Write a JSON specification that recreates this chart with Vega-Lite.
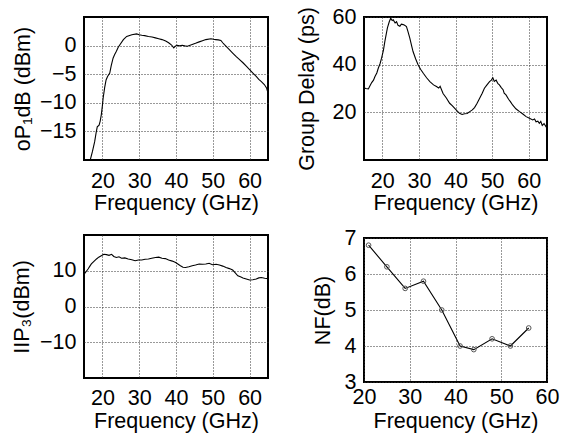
{
  "$schema": "https://vega.github.io/schema/vega-lite/v6.json",
  "padding": {"left": 10, "top": 5, "right": 0, "bottom": 0},
  "background": "white",
  "config": {
    "font": "Liberation Sans",
    "view": {"stroke": "black", "strokeWidth": 2},
    "axis": {
      "domain": false, "ticks": false, "tickSize": 0,
      "labelFontSize": 21.5, "titleFontSize": 21.5,
      "labelColor": "black", "titleColor": "black", "titleFontWeight": "normal",
      "labelFont": "Liberation Sans", "titleFont": "Liberation Sans",
      "gridColor": "#333", "gridDash": [1, 2], "gridOpacity": 1, "gridWidth": 1,
      "labelPadding": 8, "labelFlush": false
    },
    "axisX": {"labelPadding": 10, "titlePadding": 1}
  },
  "datasets": {
    "p1": [
      {"f":16.7,"v":-20},{"f":17.3,"v":-18.5},{"f":17.9,"v":-16.8},{"f":18.3,"v":-15.2},{"f":18.6,"v":-14.2},{"f":19.1,"v":-13.9},{"f":19.4,"v":-13.2},{"f":19.7,"v":-12.1},{"f":20.0,"v":-10.5},{"f":20.2,"v":-9.2},{"f":20.6,"v":-7.4},{"f":21.0,"v":-6.0},{"f":21.4,"v":-5.4},{"f":22.0,"v":-4.8},{"f":22.4,"v":-3.5},{"f":22.9,"v":-2.2},{"f":23.3,"v":-1.6},{"f":23.8,"v":-1.0},{"f":24.3,"v":-0.3},{"f":24.8,"v":0.2},{"f":25.7,"v":1.05},{"f":26.6,"v":1.6},{"f":28.0,"v":1.9},{"f":29.3,"v":2.05},{"f":30.0,"v":1.9},{"f":30.7,"v":1.8},{"f":31.5,"v":1.75},{"f":32.5,"v":1.6},{"f":33.5,"v":1.5},{"f":34.4,"v":1.35},{"f":35.3,"v":1.2},{"f":36.2,"v":1.05},{"f":37.2,"v":0.8},{"f":38.0,"v":0.5},{"f":38.8,"v":0.1},{"f":39.4,"v":-0.4},{"f":39.8,"v":-0.1},{"f":40.3,"v":0.05},{"f":41.0,"v":-0.05},{"f":41.7,"v":0.05},{"f":42.4,"v":-0.05},{"f":43.1,"v":-0.1},{"f":44.4,"v":0.2},{"f":45.3,"v":0.4},{"f":46.3,"v":0.65},{"f":47.2,"v":0.85},{"f":48.1,"v":1.05},{"f":49.5,"v":1.2},{"f":50.2,"v":1.1},{"f":50.8,"v":1.05},{"f":51.5,"v":1.0},{"f":52.2,"v":0.9},{"f":52.7,"v":0.5},{"f":53.1,"v":0.2},{"f":54.5,"v":-0.7},{"f":55.4,"v":-1.3},{"f":56.3,"v":-1.9},{"f":57.2,"v":-2.4},{"f":58.2,"v":-3.0},{"f":59.1,"v":-3.6},{"f":60.0,"v":-4.2},{"f":60.9,"v":-4.8},{"f":61.8,"v":-5.4},{"f":62.5,"v":-5.9},{"f":63.2,"v":-6.3},{"f":64.0,"v":-6.8},{"f":64.6,"v":-7.4},{"f":65.0,"v":-8.3},{"f":65.5,"v":-8.9}
    ],
    "p2": [
      {"f":14.8,"v":30.4},{"f":15.5,"v":30.0},{"f":16.2,"v":29.8},{"f":16.6,"v":31.0},{"f":17.1,"v":32.5},{"f":17.6,"v":33.5},{"f":18.0,"v":35.0},{"f":18.5,"v":36.5},{"f":18.9,"v":38.5},{"f":19.4,"v":40.5},{"f":19.8,"v":42.7},{"f":20.3,"v":46},{"f":20.7,"v":49.8},{"f":21.1,"v":53},{"f":21.4,"v":55.4},{"f":21.9,"v":58},{"f":22.3,"v":59.5},{"f":22.7,"v":58.5},{"f":23.0,"v":58.8},{"f":23.5,"v":57.5},{"f":23.9,"v":58},{"f":24.3,"v":56.5},{"f":24.8,"v":56.1},{"f":25.2,"v":57},{"f":25.7,"v":56.8},{"f":26.1,"v":56.5},{"f":26.6,"v":56},{"f":27.0,"v":54},{"f":27.5,"v":51.2},{"f":28.0,"v":48},{"f":28.4,"v":45.5},{"f":29.1,"v":42.5},{"f":29.8,"v":39.9},{"f":30.5,"v":38},{"f":31.2,"v":36.4},{"f":32.1,"v":34.5},{"f":33.0,"v":32.9},{"f":34.0,"v":31.5},{"f":34.8,"v":30.8},{"f":35.4,"v":30.2},{"f":35.8,"v":30.9},{"f":36.6,"v":27.9},{"f":37.5,"v":26},{"f":38.4,"v":23.8},{"f":39.1,"v":22.8},{"f":39.8,"v":21.7},{"f":40.5,"v":20.5},{"f":41.1,"v":19.6},{"f":41.8,"v":19.1},{"f":42.5,"v":19.4},{"f":43.2,"v":19.5},{"f":43.9,"v":20.3},{"f":44.6,"v":21},{"f":45.2,"v":22.0},{"f":45.9,"v":23.8},{"f":46.6,"v":25.9},{"f":47.3,"v":28},{"f":47.9,"v":30.1},{"f":48.6,"v":31.5},{"f":49.3,"v":32.9},{"f":49.8,"v":33.5},{"f":50.2,"v":34.5},{"f":50.6,"v":33},{"f":51.1,"v":33.5},{"f":51.6,"v":32},{"f":52.0,"v":31.5},{"f":52.5,"v":30.4},{"f":53.0,"v":29.5},{"f":53.3,"v":28},{"f":53.8,"v":27.3},{"f":54.5,"v":25.5},{"f":55.0,"v":24.5},{"f":55.6,"v":23.1},{"f":56.5,"v":21.5},{"f":57.5,"v":20.3},{"f":58.4,"v":19.3},{"f":59.3,"v":18.2},{"f":60.2,"v":17.5},{"f":61.1,"v":16.8},{"f":61.6,"v":17.2},{"f":62.0,"v":16},{"f":62.5,"v":16.3},{"f":62.9,"v":15.4},{"f":63.3,"v":16.2},{"f":63.7,"v":14.5},{"f":64.2,"v":15.3},{"f":64.7,"v":14.0},{"f":65.0,"v":14.5}
    ],
    "p3": [
      {"f":15.1,"v":9.1},{"f":15.6,"v":9.8},{"f":16.1,"v":10.5},{"f":16.6,"v":11.3},{"f":17.0,"v":11.9},{"f":17.7,"v":12.6},{"f":18.4,"v":13.3},{"f":19.0,"v":13.8},{"f":19.7,"v":14.2},{"f":20.4,"v":14.6},{"f":21.1,"v":14.5},{"f":21.8,"v":14.3},{"f":22.5,"v":14.6},{"f":23.1,"v":14.0},{"f":23.8,"v":13.7},{"f":24.5,"v":13.9},{"f":25.2,"v":13.5},{"f":26.1,"v":13.6},{"f":27.0,"v":13.3},{"f":28.0,"v":13.1},{"f":28.9,"v":12.8},{"f":29.8,"v":13.0},{"f":30.7,"v":13.0},{"f":31.6,"v":13.2},{"f":32.5,"v":13.3},{"f":33.4,"v":13.5},{"f":34.4,"v":13.7},{"f":35.3,"v":13.8},{"f":36.2,"v":13.5},{"f":37.1,"v":13.4},{"f":38.0,"v":13.0},{"f":39.0,"v":12.7},{"f":39.9,"v":12.3},{"f":40.5,"v":11.9},{"f":41.2,"v":11.4},{"f":41.9,"v":11.0},{"f":42.6,"v":10.9},{"f":43.5,"v":11.1},{"f":44.4,"v":11.4},{"f":45.3,"v":11.6},{"f":46.3,"v":11.9},{"f":47.2,"v":11.8},{"f":48.1,"v":11.9},{"f":49.0,"v":12.1},{"f":49.9,"v":11.7},{"f":50.9,"v":11.8},{"f":51.8,"v":11.6},{"f":52.7,"v":11.3},{"f":53.6,"v":10.9},{"f":54.5,"v":10.6},{"f":55.4,"v":10.2},{"f":56.1,"v":9.4},{"f":56.8,"v":8.6},{"f":57.5,"v":8.3},{"f":58.2,"v":8.0},{"f":59.1,"v":7.7},{"f":60.0,"v":7.4},{"f":60.9,"v":7.5},{"f":61.8,"v":7.7},{"f":62.5,"v":8.0},{"f":63.2,"v":8.1},{"f":64.1,"v":7.9},{"f":65.0,"v":7.8}
    ],
    "p4": [
      {"f":21,"v":6.8},{"f":25,"v":6.2},{"f":29,"v":5.6},{"f":33,"v":5.8},{"f":37,"v":5.0},{"f":41,"v":4.0},{"f":44,"v":3.9},{"f":48,"v":4.2},{"f":52,"v":4.0},{"f":56,"v":4.5}
    ]
  },
  "spacing": 26,
  "hconcat": [
    {
      "spacing": 19,
      "vconcat": [
        {
          "width": 184, "height": 143,
          "data": {"name": "p1"},
          "mark": {"type": "line", "color": "black", "strokeWidth": 1.1, "clip": true},
          "encoding": {
            "x": {"field": "f", "type": "quantitative", "scale": {"domain": [15, 65], "nice": false, "zero": false}, "axis": {"values": [20, 30, 40, 50, 60], "title": "Frequency (GHz)"}},
            "y": {"field": "v", "type": "quantitative", "scale": {"domain": [-20, 5], "nice": false, "zero": false}, "axis": {"values": [-15, -10, -5, 0], "title": "oP₁dB (dBm)", "titlePadding": 5}}
          }
        },
        {
          "width": 184, "height": 143,
          "data": {"name": "p3"},
          "mark": {"type": "line", "color": "black", "strokeWidth": 1.1, "clip": true},
          "encoding": {
            "x": {"field": "f", "type": "quantitative", "scale": {"domain": [15, 65], "nice": false, "zero": false}, "axis": {"values": [20, 30, 40, 50, 60], "title": "Frequency (GHz)", "labelPadding": 9, "titlePadding": 1.5}},
            "y": {"field": "v", "type": "quantitative", "scale": {"domain": [-20, 20], "nice": false, "zero": false}, "axis": {"values": [-10, 0, 10], "title": "IIP₃(dBm)", "titlePadding": 6}}
          }
        }
      ]
    },
    {
      "spacing": 11,
      "vconcat": [
        {
          "width": 183, "height": 143,
          "data": {"name": "p2"},
          "mark": {"type": "line", "color": "black", "strokeWidth": 1.1, "clip": true},
          "encoding": {
            "x": {"field": "f", "type": "quantitative", "scale": {"domain": [15, 65], "nice": false, "zero": false}, "axis": {"values": [20, 30, 40, 50, 60], "title": "Frequency (GHz)"}},
            "y": {"field": "v", "type": "quantitative", "scale": {"domain": [0, 60], "nice": false, "zero": false}, "axis": {"values": [20, 40, 60], "title": "Group Delay (ps)", "titlePadding": 14}}
          }
        },
        {
          "width": 183, "height": 144,
          "data": {"name": "p4"},
          "encoding": {
            "x": {"field": "f", "type": "quantitative", "scale": {"domain": [20, 60], "nice": false, "zero": false}, "axis": {"values": [20, 30, 40, 50, 60], "title": "Frequency (GHz)", "labelPadding": 4, "titlePadding": 3, "labelFlush": false}},
            "y": {"field": "v", "type": "quantitative", "scale": {"domain": [3, 7], "nice": false, "zero": false}, "axis": {"values": [3, 4, 5, 6, 7], "title": "NF(dB)", "titlePadding": 10}}
          },
          "layer": [
            {"mark": {"type": "line", "color": "black", "strokeWidth": 1.1, "clip": true}},
            {"mark": {"type": "point", "shape": "circle", "filled": false, "color": "#555", "strokeWidth": 1, "size": 22, "opacity": 1, "clip": true}}
          ]
        }
      ]
    }
  ]
}
